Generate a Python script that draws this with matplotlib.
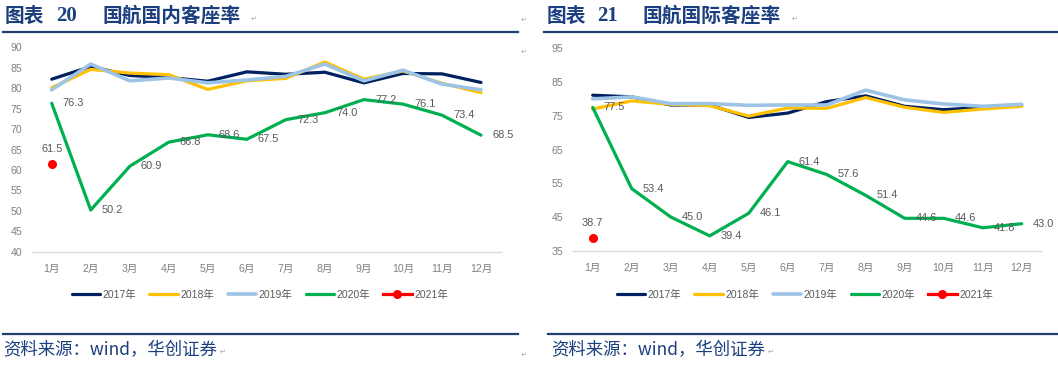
import matplotlib
matplotlib.use("Agg")
import matplotlib.pyplot as plt
from matplotlib.lines import Line2D

plt.rcParams['font.family'] = ['Liberation Sans', 'Noto Sans CJK SC', 'DejaVu Sans']

months = ['1月', '2月', '3月', '4月', '5月', '6月', '7月', '8月', '9月', '10月', '11月', '12月']
years = ['2017年', '2018年', '2019年', '2020年', '2021年']

# 国航国内客座率
dom_2017 = [82.2, 85.3, 83.1, 82.6, 81.7, 84.0, 83.4, 83.9, 81.3, 83.6, 83.5, 81.4]
dom_2018 = [80.1, 84.6, 83.7, 83.3, 79.7, 81.8, 82.4, 86.4, 82.2, 84.2, 81.2, 78.9]
dom_2019 = [79.6, 85.9, 81.8, 82.5, 81.3, 82.0, 82.9, 85.9, 81.8, 84.4, 81.0, 79.6]
dom_2020 = [76.3, 50.2, 60.9, 66.8, 68.6, 67.5, 72.3, 74.0, 77.2, 76.1, 73.4, 68.5]
dom_2021 = [61.5]

# 国航国际客座率
intl_2017 = [81.1, 80.6, 78.2, 78.2, 74.5, 75.8, 79.2, 80.9, 77.8, 76.8, 77.5, 78.0]
intl_2018 = [77.0, 79.4, 78.4, 78.0, 74.9, 77.3, 77.2, 80.4, 77.5, 76.0, 77.0, 77.8]
intl_2019 = [80.0, 80.6, 78.6, 78.6, 78.1, 78.2, 78.2, 82.6, 79.7, 78.5, 77.8, 78.4]
intl_2020 = [77.5, 53.4, 45.0, 39.4, 46.1, 61.4, 57.6, 51.4, 44.6, 44.6, 41.8, 43.0]
intl_2021 = [38.7]

W, H = 1058, 367
fig = plt.figure(figsize=(W / 100, H / 100), dpi=100)

colors = ['#002060', '#FFC000', '#9DC3E6', '#00B050', '#FF0000']
title_color = '#1B3F7E'
tick_color = '#808080'
label_color = '#595959'


def fx(px):
    return px / W


def fy(py):
    return 1 - py / H


def draw_panel(ax, s17, s18, s19, s20, s21, ylim, yticks):
    x = list(range(len(months)))
    lw = 2.3
    ax.plot(x, s17, color=colors[0], lw=lw, label=years[0], solid_capstyle='round')
    ax.plot(x, s18, color=colors[1], lw=lw, label=years[1], solid_capstyle='round')
    ax.plot(x, s19, color=colors[2], lw=2.6, label=years[2], solid_capstyle='round')
    ax.plot(x, s20, color=colors[3], lw=lw, label=years[3], solid_capstyle='round')
    ax.plot(list(range(len(s21))), s21, color=colors[4], lw=lw, marker='o',
            markersize=5.5, label=years[4])
    for xi, v in zip(x, s20):
        ax.annotate(f'{v:.1f}', (xi, v), xytext=(8, 0), textcoords='offset points',
                    ha='left', va='center', fontsize=7.9, color=label_color)
    for xi, v in zip(range(len(s21)), s21):
        ax.annotate(f'{v:.1f}', (xi, v), xytext=(0, 11), textcoords='offset points',
                    ha='center', va='center', fontsize=7.9, color=label_color)
    ax.set_xlim(-0.5, 11.5)
    ax.set_ylim(*ylim)
    ax.set_yticks(yticks)
    ax.set_xticks(x)
    ax.set_xticklabels(months)
    for s in ['top', 'right', 'left']:
        ax.spines[s].set_visible(False)
    ax.spines['bottom'].set_color('#D9D9D9')
    ax.spines['bottom'].set_linewidth(1.0)
    ax.tick_params(axis='both', length=0, colors=tick_color, labelsize=7.6)
    ax.tick_params(axis='x', pad=9)
    ax.tick_params(axis='y', pad=7)
    ax.set_facecolor('none')


# Left panel
axL = fig.add_axes([fx(32.2), fy(251.7), fx(500.5 - 32.2), (251.7 - 47.3) / H])
draw_panel(axL, dom_2017, dom_2018, dom_2019, dom_2020, dom_2021,
           (40, 90), list(range(40, 91, 5)))

# Right panel
axR = fig.add_axes([fx(573.2), fy(250.7), fx(1041.2 - 573.2), (250.7 - 48.3) / H])
draw_panel(axR, intl_2017, intl_2018, intl_2019, intl_2020, intl_2021,
           (35, 95), list(range(35, 96, 10)))

for ax, cx in [(axL, 260), (axR, 805)]:
    ax.legend(loc='center', bbox_to_anchor=(fx(cx), fy(295)), bbox_transform=fig.transFigure,
              ncol=5, frameon=False, fontsize=7.5, handlelength=2.7, handletextpad=0.3,
              columnspacing=1.25, labelcolor=label_color, borderaxespad=0, borderpad=0)

# Titles
cjk = ['Noto Sans CJK SC']
for x0, num, x1, name in [(5, '20', 56, '国航国内客座率'), (547, '21', 597, '国航国际客座率')]:
    fig.text(fx(x0), fy(16), '图表', fontsize=14.2, weight='bold', family=cjk,
             color=title_color, va='center', ha='left')
    fig.text(fx(x1), fy(16), num, fontsize=15, weight='bold', family=['Liberation Serif'],
             color=title_color, va='center', ha='left')
    fig.text(fx(x1 + 46), fy(16), name, fontsize=14.2, weight='bold', family=cjk,
             color=title_color, va='center', ha='left')

# Rules
fig.add_artist(Line2D([fx(3), fx(518)], [fy(32.3), fy(32.3)], color='#1F3F6F', lw=1.6))
fig.add_artist(Line2D([fx(544), fx(1058)], [fy(32.3), fy(32.3)], color='#1F3F6F', lw=1.6))
fig.add_artist(Line2D([fx(3), fx(518)], [fy(333.5), fy(333.5)], color='#1F3F6F', lw=1.6))
fig.add_artist(Line2D([fx(548), fx(1058)], [fy(333.5), fy(333.5)], color='#1F3F6F', lw=1.6))

# Source
for x0 in [3, 551]:
    fig.text(fx(x0), fy(350), '资料来源：wind，华创证券', fontsize=12.5, family=cjk,
             color=title_color, va='center', ha='left', style='italic')

# paragraph marks
for (px, py) in [(254, 19), (524, 20), (524, 52), (223, 352), (524, 355),
                 (795, 19), (771, 352)]:
    fig.text(fx(px), fy(py), '\u21b5', fontsize=5, color='#A6A6A6',
             family=['DejaVu Sans'], ha='center', va='center')

fig.savefig('out.png', dpi=100, facecolor='white')
